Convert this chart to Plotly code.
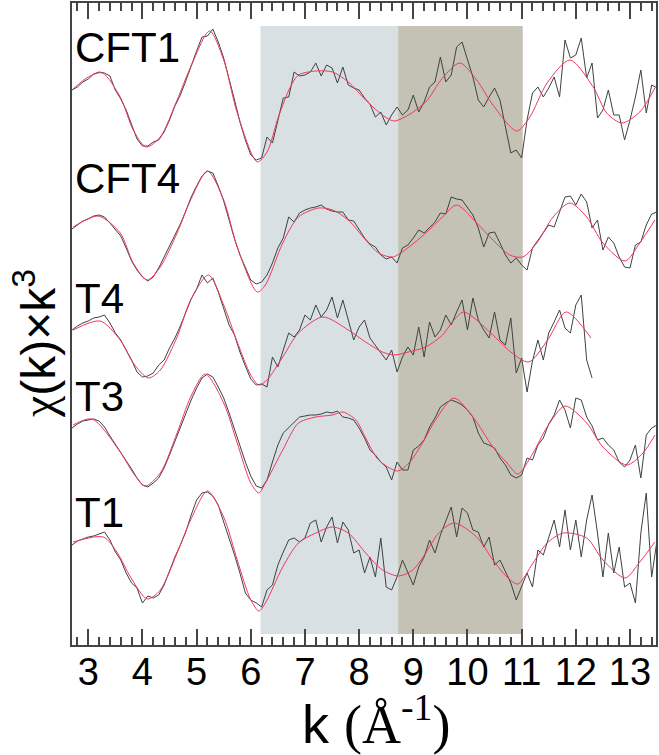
import numpy as np
import plotly.graph_objects as go

# sample labels (top first) and their vertical offsets
SAMPLES = ["CFT1", "CFT4", "T4", "T3", "T1"]
OFFSETS = [545, 415, 315, 205, 85]

# measured chi(k)*k^3 on a 0.1 grid (arbitrary units, one unit ~ one pixel)
K_DATA = np.round(np.arange(2.7, 13.55, 0.1), 2)

CFT1_DATA = [10, 13, 18, 21, 26, 28, 27, 24, 10, 1,
             -10, -24, -39, -46, -46, -42, -40, -32, -20, -6,
             5, 19, 35, 49, 63, 64, 71, 58, 42, 22,
             0, -22, -40, -55, -60, -58, -37, -43, -22, 2,
             3, 28, 24, 25, 28, 37, 24, 35, 32, 17,
             33, 15, 12, 10, 2, -4, -17, -12, -25, -15,
             -7, -15, -10, 5, -12, -2, 13, 18, 43, 18,
             25, 53, 58, 40, 23, 0, -7, 3, 12, 0,
             -28, -53, -50, -58, -20, 7, 13, 3, 12, 23,
             3, 60, 42, 45, 62, 22, 37, -18, -10, 10,
             -15, -15, -40, -20, 3, 30, -13, 15, 12]

CFT4_DATA = [1, 5, 9, 11, 14, 15, 13, 7, 0, -6,
             -18, -31, -40, -47, -51, -47, -38, -27, -17, -6,
             6, 19, 33, 44, 54, 59, 57, 44, 29, 10,
             -9, -25, -38, -50, -54, -52, -45, -33, -18, -8,
             13, 8, 17, 20, 22, 23, 25, 21, 19, 18,
             18, 10, 9, 0, -8, -14, -17, -25, -29, -27,
             -33, -18, -15, -8, 0, -3, 3, 8, 17, 16,
             33, 31, 30, 23, 15, 2, -17, -3, -2, -13,
             -25, -33, -28, -35, -40, -18, -10, -3, 5, 3,
             17, 33, 34, 25, 36, 28, 2, 10, -20, -7,
             -13, -27, -37, -38, -15, -12, 5, 16, 18]

T4_DATA = [0, 4, 7, 9, 12, 13, 15, 7, -3, -10,
           -20, -30, -42, -47, -46, -43, -35, -30, -18, -8,
           4, 18, 31, 41, 55, 47, 52, 38, 22, 5,
           -5, -22, -36, -49, -55, -54, -57, -27, -37, -20,
           -3, -7, 0, 15, 10, 25, 13, 20, 33, 12,
           30, 10, -10, 3, 10, -8, -15, -23, -30, -20,
           -42, -27, -17, -25, 3, -27, 8, -7, 0, 15,
           5, 18, 30, 0, 32, 10, 0, -8, 18, -10,
           -15, 12, -43, -28, -62, -31, -10, -30, -3, 8,
           20, 2, -3, 25, 35, -30, -48]

T3_DATA = [12, 16, 19, 20, 21, 19, 13, 4, -4, -12,
           -20, -29, -38, -45, -47, -43, -38, -28, -15, -1,
           12, 26, 40, 52, 62, 66, 63, 53, 42, 27,
           10, -6, -22, -36, -46, -48, -40, -22, -5, 7,
           12, 18, 23, 24, 25, 25, 26, 28, 27, 29,
           23, 22, 20, 12, 2, -10, -15, -22, -27, -40,
           -22, -30, -30, -10, -6, 0, 13, 22, 33, 37,
           40, 38, 35, 30, 23, 7, -3, -5, -8, -18,
           -25, -35, -38, -35, -18, -20, -5, 2, 16, 25,
           40, 30, 12, 42, 40, 23, 14, 0, 2, -5,
           -10, -22, -27, -20, -5, -38, 5, 12, 15]

T1_DATA = [15, 19, 21, 23, 24, 26, 28, 20, 8, 0,
           -13, -23, -28, -43, -36, -38, -35, -25, -10, 3,
           15, 28, 45, 60, 67, 68, 64, 55, 38, 22,
           5, -13, -33, -40, -43, -47, -30, -25, -5, 8,
           20, 22, 18, 22, 37, 40, 18, 33, 43, 17,
           38, 30, 7, 10, -13, 3, -17, 22, -27, -30,
           -17, 0, -13, -25, -7, 3, 20, 7, 25, 40,
           53, 23, 52, 47, 30, 28, 13, 23, -5, 0,
           -12, -23, -40, -27, -13, -27, 10, 5, 23, 40,
           13, 50, 10, 40, 3, 40, 65, 27, -17, 27,
           -13, 13, -27, -23, -43, 27, 67, -17, 20]

# fitted curves (knots)
CFT1_FIT_K = [2.72, 3.0, 3.26, 3.59, 3.83, 4.07, 4.33, 4.64, 4.89, 5.24, 5.5, 5.75, 6.12, 6.3,
              6.51, 6.73, 6.88, 7.2, 7.51, 7.8, 8.12, 8.43, 8.64, 8.91, 9.23, 9.54, 9.86,
              10.17, 10.47, 10.91, 11.15, 11.47, 11.89, 12.32, 12.57, 12.85, 13.18, 13.46]
CFT1_FIT = [11, 23, 27, 3, -30, -47, -37, 0, 33, 69, 40, -13, -62, -52,
            -17, 13, 25, 29, 28, 18, 0, -15, -21, -15, -2, 22, 37,
            20, -5, -31, -17, 17, 40, 13, -13, -23, -12, 12]

CFT4_FIT_K = [2.72, 3.18, 3.59, 3.83, 4.09, 4.33, 4.64, 4.89, 5.2, 5.5, 5.75, 6.12, 6.27,
              6.59, 6.88, 7.25, 7.51, 7.8, 8.12, 8.36, 8.62, 8.92, 9.23, 9.54, 9.8, 10.17,
              10.47, 10.78, 11.02, 11.28, 11.58, 11.89, 12.2, 12.5, 12.91, 13.18, 13.46]
CFT4_FIT = [3, 14, -3, -33, -50, -37, -3, 30, 59, 30, -17, -62, -55,
            -13, 13, 22, 20, 10, -10, -23, -27, -17, -3, 13, 25, 7,
            -10, -25, -27, -13, 13, 27, 13, -13, -31, -13, 10]

T4_FIT_K = [2.72, 3.22, 3.59, 3.83, 4.11, 4.33, 4.64, 4.89, 5.22, 5.5, 5.75, 6.0, 6.15, 6.3,
            6.59, 6.88, 7.33, 7.8, 8.12, 8.43, 8.64, 8.91, 9.23, 9.54, 9.72, 9.93, 10.43,
            10.8, 11.13, 11.48, 11.82, 12.28]
T4_FIT = [0, 9, -10, -33, -48, -40, -7, 30, 55, 25, -12, -45, -55, -50,
          -27, -3, 13, 0, -12, -22, -25, -22, -17, -5, 8, 18, -3,
          -22, -32, -10, 18, -8]

T3_FIT_K = [2.72, 3.07, 3.59, 3.83, 4.05, 4.33, 4.64, 4.89, 5.16, 5.5, 5.75, 6.0, 6.15, 6.27,
            6.59, 6.88, 7.2, 7.51, 7.7, 7.94, 8.12, 8.36, 8.71, 8.92, 9.17, 9.41, 9.75,
            10.1, 10.47, 10.73, 10.93, 11.21, 11.47, 11.8, 12.2, 12.5, 12.94, 13.24, 13.46]
T3_FIT = [15, 21, -12, -33, -46, -33, 7, 43, 66, 37, -3, -43, -53, -43,
          -10, 17, 23, 25, 28, 20, 2, -20, -31, -23, -3, 20, 42,
          23, -7, -23, -34, -13, 13, 34, 17, -7, -25, -13, 5]

T1_FIT_K = [2.72, 3.28, 3.54, 3.78, 4.09, 4.33, 4.64, 4.89, 5.2, 5.5, 5.75, 6.0, 6.15, 6.27,
            6.59, 6.88, 7.2, 7.51, 7.8, 8.12, 8.43, 8.73, 8.99, 9.23, 9.47, 9.75, 10.17,
            10.47, 10.73, 10.93, 11.21, 11.47, 11.77, 12.2, 12.5, 12.91, 13.18, 13.46]
T1_FIT = [18, 23, 7, -17, -39, -30, 7, 40, 69, 43, 0, -40, -51, -43,
          -7, 17, 27, 33, 27, 7, -10, -16, -10, 7, 27, 37, 23,
          0, -17, -24, -3, 17, 27, 22, 0, -18, -2, 18]

# fitting windows in k
WINDOW_1 = (6.18, 8.72)
WINDOW_2 = (8.72, 11.02)

DATA = [CFT1_DATA, CFT4_DATA, T4_DATA, T3_DATA, T1_DATA]
FIT_K = [CFT1_FIT_K, CFT4_FIT_K, T4_FIT_K, T3_FIT_K, T1_FIT_K]
FIT = [CFT1_FIT, CFT4_FIT, T4_FIT, T3_FIT, T1_FIT]

# label heights (centre of capitals) relative to each trace offset
LABEL_Y = [53, 52, 32, 44, 48]

SANS = "Liberation Sans, Arial, sans-serif"

fig = go.Figure()

for name, off, data, fk, fv in zip(SAMPLES, OFFSETS, DATA, FIT_K, FIT):
    kk = K_DATA[:len(data)]
    fig.add_trace(go.Scatter(
        x=kk, y=np.array(data) + off, mode="lines",
        line=dict(color="#3d4242", width=1), showlegend=False, name=name,
    ))
    fig.add_trace(go.Scatter(
        x=fk, y=np.array(fv) + off, mode="lines",
        line=dict(color="#f2385a", width=1, shape="spline", smoothing=0.8),
        showlegend=False, name=name + " fit",
    ))

for (x0, x1), col in [(WINDOW_1, "#d8e0e3"), (WINDOW_2, "#c3c2b5")]:
    fig.add_shape(type="rect", x0=x0, x1=x1, y0=11, y1=619, xref="x", yref="y",
                  fillcolor=col, line_width=0, layer="below")

for name, off, ly in zip(SAMPLES, OFFSETS, LABEL_Y):
    fig.add_annotation(x=2.71, y=off + ly, xref="x", yref="y", text=name,
                       showarrow=False, xanchor="left", yanchor="middle",
                       font=dict(family=SANS, size=42, color="black"))

fig.add_annotation(
    x=0.52, y=-0.118, xref="paper", yref="paper", showarrow=False,
    xanchor="center", yanchor="middle",
    text='k <span style="font-family:Liberation Serif">(Å<sup>-1</sup>)</span>',
    font=dict(family=SANS, size=54, color="black"),
)
fig.add_annotation(
    x=-0.063, y=0.469, xref="paper", yref="paper", showarrow=False,
    xanchor="center", yanchor="middle", textangle=-90,
    text='<span style="font-family:Liberation Serif">χ</span>(k)×k<sup>3</sup>',
    font=dict(family=SANS, size=48, color="black"),
)

fig.update_xaxes(
    range=[2.7, 13.48], tickmode="linear", tick0=3, dtick=1,
    ticks="inside", ticklen=16, tickwidth=1.5, tickcolor="#444",
    minor=dict(dtick=0.2, tick0=3, ticks="inside", ticklen=8, tickwidth=1.5, tickcolor="#444"),
    showline=True, linecolor="#444", linewidth=2, mirror="allticks",
    showgrid=False, zeroline=False, automargin=False, ticklabelstandoff=-8,
    tickfont=dict(family=SANS, size=38, color="black"),
)
fig.update_yaxes(
    range=[0, 642], showticklabels=False, ticks="",
    showline=True, linecolor="#444", linewidth=2, mirror=True,
    showgrid=False, zeroline=False, automargin=False,
)
fig.update_layout(
    width=659, height=755,
    margin=dict(l=72, r=3, t=3, b=110, autoexpand=False),
    plot_bgcolor="white", paper_bgcolor="white",
)

# the page body has a default 8px margin; drop it so the figure fills the window
fig.write_html("out.html", config={"displayModeBar": False},
               post_script="document.body.style.margin='0';")
